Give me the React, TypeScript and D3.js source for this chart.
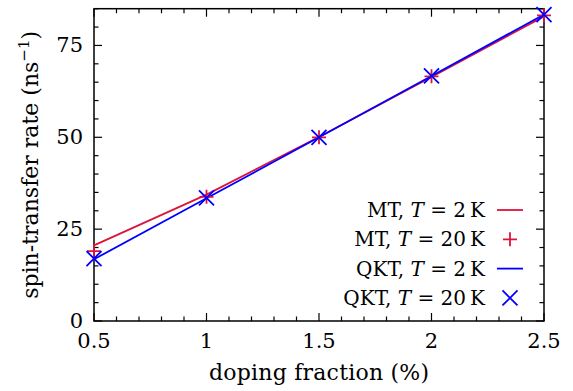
import { useEffect, useRef } from "react";
import * as d3 from "d3";

const doping = [0.5, 1, 1.5, 2, 2.5];
const mt2K = [20.6, 34.4, 50.1, 66.4, 82.9];
const mt20K = [19.0, 33.8, 50.0, 66.6, 83.2];
const qkt2K = [16.8, 33.4, 50.0, 66.7, 83.4];
const qkt20K = [17.0, 33.5, 50.0, 66.7, 83.4];

const xTicks = [0.5, 1, 1.5, 2, 2.5];
const yTicks = [0, 25, 50, 75];

const RED = "#dc143c";
const BLUE = "#0000ff";
const FONT = "DejaVu Serif, Liberation Serif, Times New Roman, serif";

export default function App() {
  const svgRef = useRef<SVGSVGElement>(null);

  useEffect(() => {
    if (!svgRef.current) return;
    const svg = d3.select(svgRef.current);
    svg.selectAll("*").remove();

    const W = 573;
    const H = 391;
    const margin = { top: 8.7, right: 29, bottom: 70, left: 94 };
    const width = W - margin.left - margin.right;
    const height = H - margin.top - margin.bottom;

    const g = svg.append("g").attr("transform", `translate(${margin.left},${margin.top})`);

    const x = d3.scaleLinear().domain([0.5, 2.5]).range([0, width]);
    const y = d3.scaleLinear().domain([0, 85]).range([height, 0]);

    // tick marks (inward, mirrored on top/right)
    const xMinor = d3.range(5, 26).map((d) => d / 10);
    const yMinor = d3.range(0, 86, 5);
    const ticks = g.append("g").attr("stroke", "#000").attr("stroke-width", 1.2);
    xMinor.forEach((v) => {
      const major = xTicks.some((t) => Math.abs(t - v) < 1e-6);
      const len = major ? 8 : 4.5;
      ticks.append("line").attr("x1", x(v)).attr("x2", x(v)).attr("y1", height).attr("y2", height - len);
      ticks.append("line").attr("x1", x(v)).attr("x2", x(v)).attr("y1", 0).attr("y2", len);
    });
    yMinor.forEach((v) => {
      const major = yTicks.includes(v);
      const len = major ? 8 : 4.5;
      ticks.append("line").attr("x1", 0).attr("x2", len).attr("y1", y(v)).attr("y2", y(v));
      ticks.append("line").attr("x1", width).attr("x2", width - len).attr("y1", y(v)).attr("y2", y(v));
    });

    // frame
    g.append("rect")
      .attr("width", width)
      .attr("height", height)
      .attr("fill", "none")
      .attr("stroke", "#000")
      .attr("stroke-width", 1.5);

    // tick labels
    g.append("g")
      .selectAll("text")
      .data(xTicks)
      .enter()
      .append("text")
      .attr("x", (d) => x(d))
      .attr("y", height + 27)
      .attr("text-anchor", "middle")
      .style("font-family", FONT)
      .attr("font-size", 21)
      .text((d) => `${d}`);

    g.append("g")
      .selectAll("text")
      .data(yTicks)
      .enter()
      .append("text")
      .attr("x", -11)
      .attr("y", (d) => y(d) + 7)
      .attr("text-anchor", "end")
      .style("font-family", FONT)
      .attr("font-size", 21)
      .text((d) => `${d}`);

    // axis titles
    g.append("text")
      .attr("x", width / 2)
      .attr("y", height + 59)
      .attr("text-anchor", "middle")
      .style("font-family", FONT)
      .attr("font-size", 22)
      .attr("textLength", 220)
      .text("doping fraction (%)");

    const yl = svg
      .append("text")
      .attr("transform", `translate(38,${margin.top + height / 2}) rotate(-90)`)
      .attr("text-anchor", "middle")
      .style("font-family", FONT)
      .attr("font-size", 22);
    yl.append("tspan").text("spin-transfer rate (ns");
    yl.append("tspan").attr("dy", -9).attr("font-size", 15).text("−1");
    yl.append("tspan").attr("dy", 9).text(")");

    // lines
    const line = d3
      .line<number>()
      .x((_, i) => x(doping[i]))
      .y((d) => y(d));

    g.append("path").datum(mt2K).attr("d", line).attr("fill", "none").attr("stroke", RED).attr("stroke-width", 1.8);
    g.append("path").datum(qkt2K).attr("d", line).attr("fill", "none").attr("stroke", BLUE).attr("stroke-width", 1.8);

    const plus = (sel: d3.Selection<SVGGElement, unknown, null, undefined>, cx: number, cy: number) => {
      const s = 7;
      sel.append("path")
        .attr("d", `M${cx - s},${cy}H${cx + s}M${cx},${cy - s}V${cy + s}`)
        .attr("stroke", RED)
        .attr("stroke-width", 1.8)
        .attr("fill", "none");
    };
    const cross = (sel: d3.Selection<SVGGElement, unknown, null, undefined>, cx: number, cy: number) => {
      const s = 7.5;
      sel.append("path")
        .attr("d", `M${cx - s},${cy - s}L${cx + s},${cy + s}M${cx - s},${cy + s}L${cx + s},${cy - s}`)
        .attr("stroke", BLUE)
        .attr("stroke-width", 1.8)
        .attr("fill", "none");
    };

    const marks = g.append("g");
    mt20K.forEach((v, i) => plus(marks, x(doping[i]), y(v)));
    qkt20K.forEach((v, i) => cross(marks, x(doping[i]), y(v)));

    // legend
    const legend = svg.append("g");
    const entries = [
      { name: "MT", temp: "2", kind: "line", color: RED },
      { name: "MT", temp: "20", kind: "plus", color: RED },
      { name: "QKT", temp: "2", kind: "line", color: BLUE },
      { name: "QKT", temp: "20", kind: "cross", color: BLUE },
    ];
    entries.forEach((e, i) => {
      const cy = 210 + i * 29.3;
      const t = legend
        .append("text")
        .attr("x", 485)
        .attr("y", cy + 7)
        .attr("text-anchor", "end")
        .style("font-family", FONT)
        .attr("font-size", 20);
      t.append("tspan").text(`${e.name}, `);
      t.append("tspan").attr("font-style", "italic").text("T");
      t.append("tspan").text(` = ${e.temp}\u2009K`);
      if (e.kind === "line") {
        legend.append("line").attr("x1", 497).attr("x2", 523).attr("y1", cy).attr("y2", cy)
          .attr("stroke", e.color).attr("stroke-width", 1.8);
      } else if (e.kind === "plus") {
        plus(legend, 510, cy);
      } else {
        cross(legend, 510, cy);
      }
    });
  }, []);

  return (
    <svg
      ref={svgRef}
      width={573}
      height={391}
      style={{ position: "absolute", left: 0, top: 0, background: "#fff", display: "block" }}
    />
  );
}
